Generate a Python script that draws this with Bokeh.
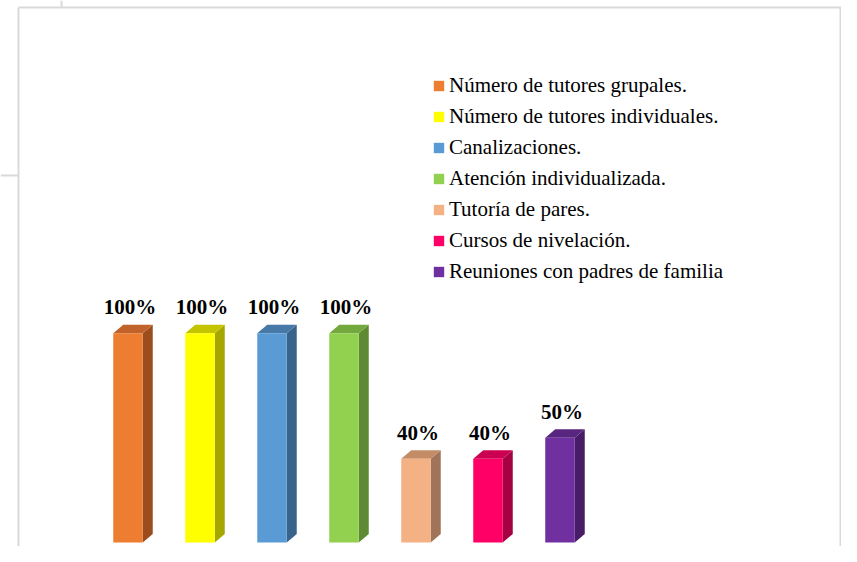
from bokeh.plotting import figure
from bokeh.models import Range1d, ColumnDataSource, Legend, LegendItem
from bokeh.core.properties import value
from bokeh.embed import file_html
from bokeh.resources import INLINE

categories = [
    "Número de tutores grupales.",
    "Número de tutores individuales.",
    "Canalizaciones.",
    "Atención individualizada.",
    "Tutoría de pares.",
    "Cursos de nivelación.",
    "Reuniones con padres de familia",
]
values = [100, 100, 100, 100, 40, 40, 50]
labels = ["100%", "100%", "100%", "100%", "40%", "40%", "50%"]
front_colors = ["#ED7D31", "#FFFF00", "#5B9BD5", "#92D050", "#F4B183", "#FF0066", "#7030A0"]
top_colors = ["#C0622A", "#C4C400", "#4679A8", "#72A83E", "#C38C66", "#CC0052", "#59267F"]
side_colors = ["#9C4D1E", "#A6A600", "#38648C", "#5E8A34", "#A07458", "#A50042", "#481D68"]

W, H = 841, 546
PX_X = 72.0      # pixels per category
PX_Y = 2.093     # pixels per percent
X0_PX = 127.5    # figure px of first category
Y0_PX = 542.0    # figure px (from top) of value 0

xs = -X0_PX / PX_X
xe = xs + W / PX_X
ys = -(H - Y0_PX) / PX_Y
ye = ys + H / PX_Y

def px_x(px):
    return xs + px / PX_X

def px_y(py):
    return ye - py / PX_Y

half_w = 14.75 / PX_X
dx = 10.0 / PX_X
dy = 8.5 / PX_Y

xpos = list(range(len(values)))

p = figure(width=W, height=H, output_backend="svg", toolbar_location=None,
           x_range=Range1d(xs, xe), y_range=Range1d(ys, ye),
           min_border=0, outline_line_color=None)
p.axis.visible = False
p.xgrid.visible = False
p.ygrid.visible = False
p.background_fill_color = "white"
p.border_fill_color = "white"

# decorative frame lines
border = dict(line_color="#D9D9D9", line_width=2)
p.segment(x0=[px_x(18)], y0=[px_y(7)], x1=[px_x(18)], y1=[px_y(H)], **border)
p.segment(x0=[px_x(18)], y0=[px_y(7)], x1=[px_x(W)], y1=[px_y(7)], **border)
p.segment(x0=[px_x(61)], y0=[px_y(0)], x1=[px_x(61)], y1=[px_y(7)], **border)
p.segment(x0=[px_x(W - 1)], y0=[px_y(7)], x1=[px_x(W - 1)], y1=[px_y(H)], **border)
p.segment(x0=[px_x(0)], y0=[px_y(175)], x1=[px_x(18)], y1=[px_y(175)], **border)

# side faces
side_xs = [[x + half_w, x + half_w + dx, x + half_w + dx, x + half_w] for x in xpos]
side_ys = [[0, dy, v + dy, v] for v in values]
p.patches(side_xs, side_ys, fill_color=side_colors, line_color=None)

# top faces
top_xs = [[x - half_w, x + half_w, x + half_w + dx, x - half_w + dx] for x in xpos]
top_ys = [[v, v, v + dy, v + dy] for v in values]
p.patches(top_xs, top_ys, fill_color=top_colors, line_color=None)

# front faces
src = ColumnDataSource(dict(
    left=[x - half_w for x in xpos], right=[x + half_w for x in xpos],
    top=values, bottom=[0] * len(values), color=front_colors,
    x=xpos, lab=labels))
front = p.quad(left="left", right="right", top="top", bottom="bottom",
               fill_color="color", line_color=None, source=src)

p.text(x="x", y="top", text="lab", source=src, x_offset=2, y_offset=-26,
       text_align="center", text_baseline="alphabetic",
       text_font=value("Liberation Serif"), text_font_style="bold",
       text_font_size="21px", text_color="black")

legend = Legend(
    items=[LegendItem(label=c, renderers=[front], index=i) for i, c in enumerate(categories)],
    location=(432, 259), orientation="vertical", padding=0, margin=0, spacing=0,
    label_height=31, glyph_height=13, glyph_width=13, label_standoff=4,
    border_line_alpha=0, background_fill_alpha=0,
    label_text_font="Liberation Serif", label_text_font_size="21px",
    label_text_color="black")
p.add_layout(legend)

open("out.html", "w").write(file_html(p, INLINE))
